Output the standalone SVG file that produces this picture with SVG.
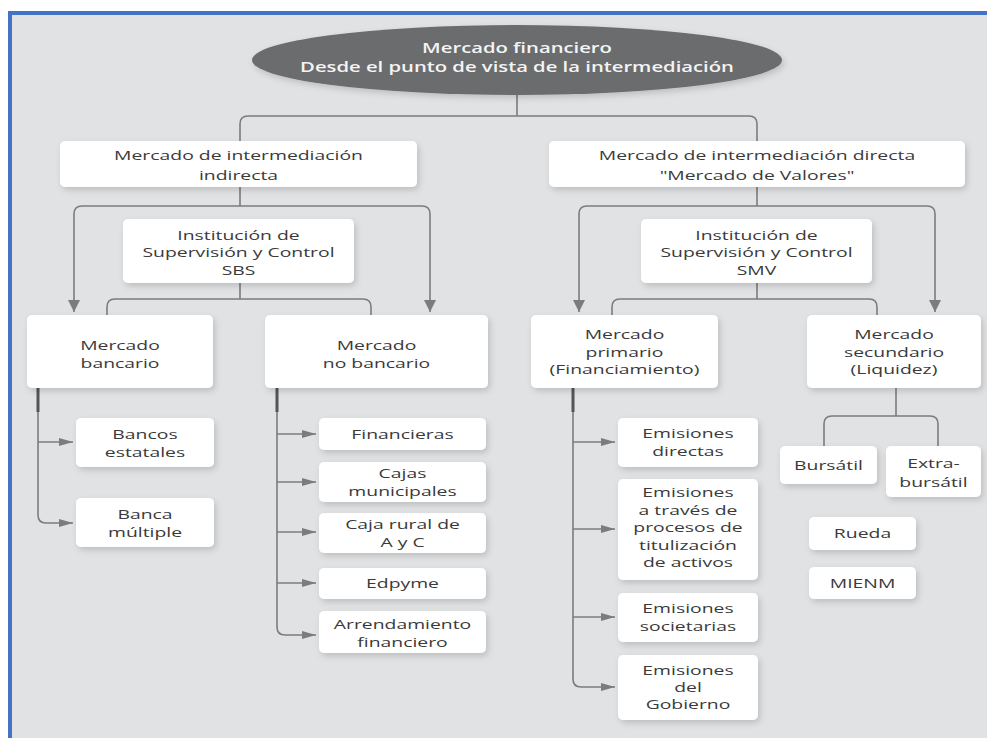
<svg xmlns="http://www.w3.org/2000/svg" width="987" height="738" viewBox="0 0 987 738">
<style>
.bx{fill:#ffffff;filter:url(#sh)}
.t{font-family:"Open Sans","DejaVu Sans",sans-serif;font-size:13px;fill:#3a3a3a;text-anchor:middle}
.tt{font-family:"Open Sans","DejaVu Sans",sans-serif;font-size:13.5px;font-weight:600;fill:#f4f4f4;text-anchor:middle}
.c{fill:none;stroke:#7c7c7c;stroke-width:1.6}
.ch{fill:none;stroke:#7c7c7c;stroke-width:1.6;marker-end:url(#ah)}
.cv{fill:none;stroke:#7c7c7c;stroke-width:1.6;marker-end:url(#av)}
.thk{fill:none;stroke:#555555;stroke-width:3}
</style>
<defs>
<filter id="sh" x="-20%" y="-20%" width="150%" height="160%">
<feDropShadow dx="2" dy="3" stdDeviation="3" flood-color="#000000" flood-opacity="0.16"/>
</filter>
<marker id="ah" viewBox="0 0 14 8" refX="14" refY="4" markerWidth="14" markerHeight="8" markerUnits="userSpaceOnUse" orient="auto">
<path d="M0,0 L14,4 L0,8 Z" fill="#7c7c7c"/>
</marker>
<marker id="av" viewBox="0 0 12 12" refX="12" refY="6" markerWidth="12" markerHeight="12" markerUnits="userSpaceOnUse" orient="auto">
<path d="M0,0 L12,6 L0,12 Z" fill="#7c7c7c"/>
</marker>
</defs>
<rect x="0" y="0" width="987" height="738" fill="#ffffff"/>
<rect x="10" y="13" width="1000" height="800" fill="#e1e2e4" stroke="#4472c4" stroke-width="4"/>

<g id="connectors">
<path class="c" d="M517,95 V116"/>
<path class="c" d="M240,141 V124 Q240,116 248,116 H749 Q757,116 757,124 V141"/>
<path class="c" d="M240,187 V206"/>
<path class="cv" d="M82,206 H422 Q430,206 430,214 V312"/>
<path class="cv" d="M82,206 Q74,206 74,214 V312"/>
<path class="c" d="M240,283 V299"/>
<path class="c" d="M107,315 V307 Q107,299 115,299 H363 Q371,299 371,307 V315"/>
<path class="c" d="M757,187 V206"/>
<path class="cv" d="M587,206 H927 Q935,206 935,214 V312"/>
<path class="cv" d="M587,206 Q579,206 579,214 V312"/>
<path class="c" d="M757,283 V299"/>
<path class="c" d="M612,315 V307 Q612,299 620,299 H869 Q877,299 877,307 V315"/>
<path class="ch" d="M38,388 V515 Q38,523 46,523 H73"/>
<path class="ch" d="M38,442 H73"/>
<path class="thk" d="M38,388 V412"/>
<path class="ch" d="M277,388 V627 Q277,635 285,635 H316"/>
<path class="ch" d="M277,434 H316"/>
<path class="ch" d="M277,482 H316"/>
<path class="ch" d="M277,532 H316"/>
<path class="ch" d="M277,583 H316"/>
<path class="thk" d="M277,388 V412"/>
<path class="ch" d="M573,388 V679 Q573,687 581,687 H615"/>
<path class="ch" d="M573,442 H615"/>
<path class="ch" d="M573,529 H615"/>
<path class="ch" d="M573,617 H615"/>
<path class="thk" d="M573,388 V412"/>
<path class="c" d="M896,388 V416"/>
<path class="c" d="M824,446 V424 Q824,416 832,416 H930 Q938,416 938,424 V446"/>
</g>

<g id="n_root">
<ellipse cx="517" cy="60" rx="265" ry="35" fill="#6b6c6e" filter="url(#sh)"/>
<text class="tt" transform="matrix(1.5 0 0 1 517 0)"><tspan x="0" y="53">Mercado financiero</tspan><tspan x="0" y="72">Desde el punto de vista de la intermediación</tspan></text>
</g>

<g id="n_indirecta">
<rect class="bx" x="60" y="141" width="357" height="46" rx="5"/>
<text class="t" transform="matrix(1.49 0 0 1 238.5 0)"><tspan x="0" y="160">Mercado de intermediación</tspan><tspan x="0" y="180">indirecta</tspan></text>
</g>
<g id="n_directa">
<rect class="bx" x="549" y="141" width="416" height="46" rx="5"/>
<text class="t" transform="matrix(1.49 0 0 1 757 0)"><tspan x="0" y="160">Mercado de intermediación directa</tspan><tspan x="0" y="180">"Mercado de Valores"</tspan></text>
</g>
<g id="n_sbs">
<rect class="bx" x="123" y="219" width="231" height="64" rx="5"/>
<text class="t" transform="matrix(1.49 0 0 1 238.5 0)"><tspan x="0" y="240">Institución de</tspan><tspan x="0" y="257.5">Supervisión y Control</tspan><tspan x="0" y="275">SBS</tspan></text>
</g>
<g id="n_smv">
<rect class="bx" x="641" y="219" width="231" height="64" rx="5"/>
<text class="t" transform="matrix(1.49 0 0 1 756.5 0)"><tspan x="0" y="240">Institución de</tspan><tspan x="0" y="257.5">Supervisión y Control</tspan><tspan x="0" y="275">SMV</tspan></text>
</g>
<g id="n_bancario">
<rect class="bx" x="27" y="315" width="186" height="73" rx="5"/>
<text class="t" transform="matrix(1.49 0 0 1 120 0)"><tspan x="0" y="350">Mercado</tspan><tspan x="0" y="368">bancario</tspan></text>
</g>
<g id="n_nobancario">
<rect class="bx" x="265" y="315" width="223" height="73" rx="5"/>
<text class="t" transform="matrix(1.49 0 0 1 376.5 0)"><tspan x="0" y="350">Mercado</tspan><tspan x="0" y="368">no bancario</tspan></text>
</g>
<g id="n_primario">
<rect class="bx" x="531" y="315" width="187" height="73" rx="5"/>
<text class="t" transform="matrix(1.49 0 0 1 624.5 0)"><tspan x="0" y="339.5">Mercado</tspan><tspan x="0" y="357">primario</tspan><tspan x="0" y="374.5">(Financiamiento)</tspan></text>
</g>
<g id="n_secundario">
<rect class="bx" x="807" y="315" width="174" height="73" rx="5"/>
<text class="t" transform="matrix(1.49 0 0 1 894 0)"><tspan x="0" y="339.5">Mercado</tspan><tspan x="0" y="357">secundario</tspan><tspan x="0" y="374.5">(Liquidez)</tspan></text>
</g>
<g id="n_bancos_estatales">
<rect class="bx" x="76" y="418" width="138" height="49" rx="5"/>
<text class="t" transform="matrix(1.49 0 0 1 145 0)"><tspan x="0" y="439">Bancos</tspan><tspan x="0" y="457">estatales</tspan></text>
</g>
<g id="n_banca_multiple">
<rect class="bx" x="76" y="498" width="138" height="49" rx="5"/>
<text class="t" transform="matrix(1.49 0 0 1 145 0)"><tspan x="0" y="519">Banca</tspan><tspan x="0" y="537">múltiple</tspan></text>
</g>
<g id="n_financieras">
<rect class="bx" x="319" y="418" width="167" height="32" rx="5"/>
<text class="t" transform="matrix(1.49 0 0 1 402.5 0)"><tspan x="0" y="439">Financieras</tspan></text>
</g>
<g id="n_cajas">
<rect class="bx" x="319" y="462" width="167" height="40" rx="5"/>
<text class="t" transform="matrix(1.49 0 0 1 402.5 0)"><tspan x="0" y="478.5">Cajas</tspan><tspan x="0" y="496.5">municipales</tspan></text>
</g>
<g id="n_rural">
<rect class="bx" x="319" y="513" width="167" height="40" rx="5"/>
<text class="t" transform="matrix(1.49 0 0 1 402.5 0)"><tspan x="0" y="529">Caja rural de</tspan><tspan x="0" y="547">A y C</tspan></text>
</g>
<g id="n_edpyme">
<rect class="bx" x="319" y="568" width="167" height="31" rx="5"/>
<text class="t" transform="matrix(1.49 0 0 1 402.5 0)"><tspan x="0" y="588">Edpyme</tspan></text>
</g>
<g id="n_arrendamiento">
<rect class="bx" x="319" y="611" width="167" height="42" rx="5"/>
<text class="t" transform="matrix(1.49 0 0 1 402.5 0)"><tspan x="0" y="629">Arrendamiento</tspan><tspan x="0" y="647">financiero</tspan></text>
</g>
<g id="n_em_directas">
<rect class="bx" x="618" y="418" width="140" height="49" rx="5"/>
<text class="t" transform="matrix(1.49 0 0 1 688 0)"><tspan x="0" y="438">Emisiones</tspan><tspan x="0" y="456">directas</tspan></text>
</g>
<g id="n_em_titulizacion">
<rect class="bx" x="618" y="479" width="140" height="101" rx="5"/>
<text class="t" transform="matrix(1.49 0 0 1 688 0)"><tspan x="0" y="497.5">Emisiones</tspan><tspan x="0" y="515">a través de</tspan><tspan x="0" y="532.5">procesos de</tspan><tspan x="0" y="550">titulización</tspan><tspan x="0" y="567.5">de activos</tspan></text>
</g>
<g id="n_em_societarias">
<rect class="bx" x="618" y="593" width="140" height="49" rx="5"/>
<text class="t" transform="matrix(1.49 0 0 1 688 0)"><tspan x="0" y="613">Emisiones</tspan><tspan x="0" y="631">societarias</tspan></text>
</g>
<g id="n_em_gobierno">
<rect class="bx" x="618" y="655" width="140" height="65" rx="5"/>
<text class="t" transform="matrix(1.49 0 0 1 688 0)"><tspan x="0" y="675">Emisiones</tspan><tspan x="0" y="692">del</tspan><tspan x="0" y="709">Gobierno</tspan></text>
</g>
<g id="n_bursatil">
<rect class="bx" x="780" y="446" width="97" height="38" rx="5"/>
<text class="t" transform="matrix(1.49 0 0 1 828.5 0)"><tspan x="0" y="470">Bursátil</tspan></text>
</g>
<g id="n_extrabursatil">
<rect class="bx" x="886" y="446" width="95" height="51" rx="5"/>
<text class="t" transform="matrix(1.49 0 0 1 933.5 0)"><tspan x="0" y="468.5">Extra-</tspan><tspan x="0" y="487.5">bursátil</tspan></text>
</g>
<g id="n_rueda">
<rect class="bx" x="809" y="517" width="107" height="33" rx="5"/>
<text class="t" transform="matrix(1.49 0 0 1 862.5 0)"><tspan x="0" y="538">Rueda</tspan></text>
</g>
<g id="n_mienm">
<rect class="bx" x="809" y="567" width="107" height="32" rx="5"/>
<text class="t" transform="matrix(1.49 0 0 1 862.5 0)"><tspan x="0" y="588">MIENM</tspan></text>
</g>
</svg>
